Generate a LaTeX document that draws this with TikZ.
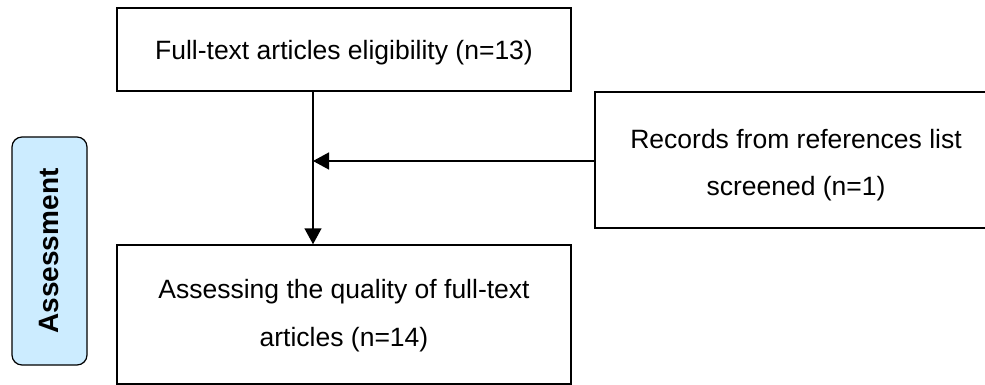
\documentclass[tikz,border=0pt]{standalone}
\usepackage{fontspec}
\setmainfont{Liberation Sans}
\usetikzlibrary{arrows.meta}
\definecolor{phasefill}{HTML}{CCECFF}
\tikzset{
  flowbox/.style={draw=black, line width=1.5pt, fill=white, inner sep=0pt},
  flowtext/.style={align=center, inner sep=0pt, font=\fontsize{26.5}{47.5}\selectfont},
  phasebox/.style={draw=black, line width=1.2pt, fill=phasefill, rounded corners=10pt,
    inner sep=0pt},
  flowarrow/.style={line width=1.5pt, -{Triangle[length=16pt,width=17pt]}}
}
\begin{document}
\begin{tikzpicture}[x=1pt,y=-1pt]
\useasboundingbox (0,0) rectangle (985,385);
% phase label
\node[phasebox, minimum width=75pt, minimum height=228pt] (phase) at (49.5,251) {};
\node[rotate=90, font=\fontsize{28}{32}\selectfont\bfseries] (phaselbl) at (phase.center) {Assessment};
% boxes
\node[flowbox, minimum width=454pt, minimum height=83pt] (elig) at (344,49.5) {};
\node[flowtext] (eliglbl) at ([yshift=-3pt]elig.center) {Full-text articles eligibility (n=13)};
\node[flowbox, minimum width=402pt, minimum height=136pt] (refs) at (796,160) {};
\node[flowtext] (refslbl) at ([yshift=-5pt]refs.center) {Records from references list\\screened (n=1)};
\node[flowbox, minimum width=454pt, minimum height=139pt] (qual) at (344,314.5) {};
\node[flowtext] (quallbl) at ([yshift=-1pt]qual.center) {Assessing the quality of full-text\\articles (n=14)};
% connectors
\coordinate (top) at (313,91);
\coordinate (join) at (313,161);
\coordinate (bot) at (313,245);
\draw[flowarrow] (elig.south -| top) -- (qual.north -| bot);
\draw[flowarrow] (refs.west |- join) -- (join);
\end{tikzpicture}
\end{document}
